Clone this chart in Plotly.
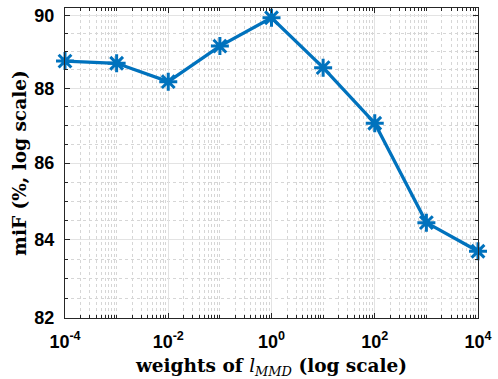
import numpy as np
import plotly.graph_objects as go

# data
weights = [1e-4, 1e-3, 1e-2, 1e-1, 1e0, 1e1, 1e2, 1e3, 1e4]
mif = [88.74, 88.68, 88.18, 89.15, 89.93, 88.56, 87.06, 84.44, 83.70]

x_tickvals = [1e-4, 1e-2, 1e0, 1e2, 1e4]
x_ticktext = ["10<sup>-4</sup>", "10<sup>-2</sup>", "10<sup>0</sup>", "10<sup>2</sup>", "10<sup>4</sup>"]
y_tickvals = [82, 84, 86, 88, 90]
y_ticktext = ["82", "84", "86", "88", "90"]

# minor ticks / grid positions
x_minor = []
for d in range(-4, 4):
    for k in range(1, 10):
        v = k * 10.0 ** d
        if k == 1 and d % 2 == 0:
            continue
        x_minor.append(v)
y_minor = [float(v) for v in np.arange(82.0, 90.01, 0.5) if v not in y_tickvals]

BLUE = "#0072BD"
AX = "#262626"
tick_font = dict(family="Liberation Sans, Arial", size=18, color="#000000", weight="bold")
title_font = dict(family="DejaVu Serif", size=18.5, color="#000000", weight="bold")

fig = go.Figure()
fig.add_trace(go.Scatter(
    x=weights, y=mif, mode="lines+markers",
    line=dict(color=BLUE, width=3.3),
    marker=dict(symbol="asterisk-open", size=15, color=BLUE, line=dict(color=BLUE, width=3)),
    cliponaxis=False, showlegend=False,
))

fig.update_layout(
    width=498, height=379,
    margin=dict(l=65, r=16, t=6, b=61),
    paper_bgcolor="white", plot_bgcolor="white",
)
fig.update_xaxes(
    type="log", range=[-4, 4],
    tickmode="array", tickvals=x_tickvals, ticktext=x_ticktext,
    tickfont=tick_font, ticks="inside", ticklen=5, tickwidth=1, tickcolor=AX,
    showline=True, linecolor=AX, linewidth=1, mirror="ticks",
    showgrid=True, gridcolor="#e3e3e3", gridwidth=1,
    minor=dict(tickmode="array", tickvals=x_minor, ticks="inside", ticklen=3,
               tickcolor=AX, showgrid=True, gridcolor="#d6d6d6", griddash="dot", gridwidth=1),
    zeroline=False, ticklabelstandoff=7,
    title=dict(text="weights of <i style='font-weight:normal'>l</i><sub><i style='font-weight:normal'>MMD</i></sub> (log scale)",
               font=title_font, standoff=8),
)
fig.update_yaxes(
    type="log", range=[np.log10(82), np.log10(90.2)],
    tickmode="array", tickvals=y_tickvals, ticktext=y_ticktext,
    tickfont=tick_font, ticks="inside", ticklen=5, tickwidth=1, tickcolor=AX,
    showline=True, linecolor=AX, linewidth=1, mirror="ticks",
    showgrid=True, gridcolor="#e3e3e3", gridwidth=1,
    minor=dict(tickmode="array", tickvals=y_minor, ticks="inside", ticklen=3,
               tickcolor=AX, showgrid=True, gridcolor="#d6d6d6", griddash="dot", gridwidth=1),
    zeroline=False, ticklabelstandoff=6,
    title=dict(text="miF (%, log scale)", font=title_font, standoff=2),
)

fig.write_html("out.html", config={"displayModeBar": False},
               post_script="document.body.style.margin='0';document.body.style.overflow='hidden';")
